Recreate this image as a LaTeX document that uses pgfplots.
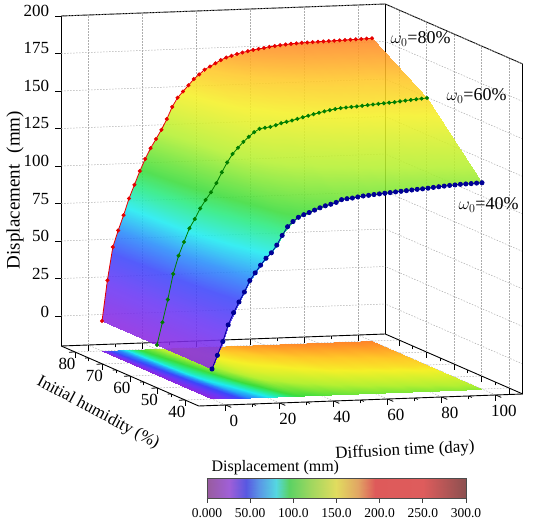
\documentclass[border=0pt]{standalone}
\usepackage{pgfplots}
\pgfplotsset{compat=1.18}
\usepackage{pgfplotstable}
\usetikzlibrary{calc}
\usepackage{fontspec}
\setmainfont{Liberation Serif}

\pgfplotsset{
 colormap={surfmap}{
  rgb255(0pt)=(140,40,225)
  rgb255(25pt)=(105,55,245)
  rgb255(45pt)=(60,70,250)
  rgb255(60pt)=(40,140,250)
  rgb255(75pt)=(30,235,240)
  rgb255(90pt)=(40,235,130)
  rgb255(100pt)=(60,220,60)
  rgb255(125pt)=(180,240,50)
  rgb255(150pt)=(245,240,40)
  rgb255(165pt)=(255,200,40)
  rgb255(180pt)=(255,140,40)
  rgb255(200pt)=(240,60,50)
  rgb255(250pt)=(230,70,70)
  rgb255(300pt)=(130,50,50)
 },
 colormap={barmap}{
  rgb255(0pt)=(152,92,158)
  rgb255(25pt)=(160,95,215)
  rgb255(45pt)=(88,88,225)
  rgb255(60pt)=(90,150,230)
  rgb255(80pt)=(85,215,225)
  rgb255(95pt)=(90,210,100)
  rgb255(120pt)=(160,215,95)
  rgb255(150pt)=(225,220,95)
  rgb255(175pt)=(225,165,100)
  rgb255(195pt)=(222,90,90)
  rgb255(250pt)=(222,92,92)
  rgb255(300pt)=(140,80,80)
 },
}

% t = diffusion time (day), h = initial humidity (%), d = displacement (mm)
\pgfplotstableread{
t h d
0 40 0
2 40 9
4 40 18
6 40 29
8 40 37
10 40 44
12 40 50.5
14 40 58
16 40 63
18 40 68
20 40 72.5
22 40 76
24 40 81
26 40 87.3
28 40 93
30 40 96.3
32 40 99
34 40 100.6
36 40 101.9
38 40 103.4
40 40 104.8
42 40 106
44 40 106.9
46 40 108
48 40 109.7
50 40 110.2
52 40 110.5
54 40 111.1
56 40 111.6
58 40 111.9
60 40 112.3
62 40 112.6
64 40 112.9
66 40 113.2
68 40 113.5
70 40 113.8
72 40 114.1
74 40 114.4
76 40 114.7
78 40 114.9
80 40 115.2
82 40 115.6
84 40 115.9
86 40 116.2
88 40 116.5
90 40 116.7
92 40 117
94 40 117.1
96 40 117.2
98 40 117.4
100 40 117.5
0 60 0
2 60 15
4 60 30
6 60 47
8 60 59
10 60 68
12 60 77
14 60 83
16 60 90
18 60 95.5
20 60 100.5
22 60 106.5
24 60 113.5
26 60 120
28 60 125.5
30 60 129.5
32 60 133.3
34 60 136.5
36 60 139.5
38 60 141.6
40 60 142.2
42 60 142.6
44 60 143.6
46 60 144.8
48 60 145.6
50 60 146.3
52 60 147.3
54 60 148.2
56 60 149.1
58 60 150
60 60 150.8
62 60 151.6
64 60 152.3
66 60 152.9
68 60 153.4
70 60 153.7
72 60 153.9
74 60 154.1
76 60 154.4
78 60 154.7
80 60 155
82 60 155.3
84 60 155.5
86 60 155.8
88 60 156
90 60 156.4
92 60 156.8
94 60 157.1
96 60 157.4
98 60 157.7
100 60 158
0 80 0
2 80 27
4 80 49
6 80 60
8 80 70
10 80 81
12 80 90
14 80 99
16 80 107
18 80 114
20 80 120
22 80 126
24 80 133
26 80 141
28 80 147
30 80 151
32 80 155
34 80 159
36 80 162
38 80 165
40 80 167
42 80 169
44 80 171
46 80 172.6
48 80 173.6
50 80 174.7
52 80 175.5
54 80 176.3
56 80 177
58 80 177.5
60 80 178
62 80 178.6
64 80 179
66 80 179.5
68 80 179.8
70 80 180.1
72 80 180.3
74 80 180.5
76 80 180.6
78 80 180.7
80 80 180.8
82 80 180.9
84 80 181
86 80 181.1
88 80 181.2
90 80 181.3
92 80 181.4
94 80 181.5
96 80 181.6
98 80 181.7
100 80 181.8
}\surfdata

\definecolor{cred}{RGB}{230,0,0}
\definecolor{cgreen}{RGB}{0,125,0}
\definecolor{cblue}{RGB}{0,0,150}

\begin{document}
\begin{tikzpicture}
\begin{axis}[
  x={(2.7pt,0.1pt)}, y={(-2.75pt,1.2pt)}, z={(0pt,1.5pt)},
  xmin=-10, xmax=110, ymin=35, ymax=85, zmin=-20, zmax=200,
  xtick={0,20,...,100}, ytick={40,50,...,80}, ztick={0,25,...,200},
  minor x tick num=1, minor y tick num=1,
  tick pos=left,
  tick align=outside,
  major tick length=6pt, minor tick length=3.5pt,
  grid=major,
  major grid style={black!32, dash pattern=on 1.5pt off 1.5pt, line width=0.5pt},
  axis line style={line width=0.9pt, black},
  every tick/.style={black, line width=0.8pt},
  major z tick style={draw=none},
  tick label style={font=\fontsize{17}{17}\selectfont},
  xticklabel style={anchor=north},
  xticklabel shift=5pt,
  yticklabel style={anchor=north, xshift=-2pt, yshift=-2pt},
  zticklabel style={xshift=-3pt},
  /pgf/number format/assume math mode=true,
  colormap name=surfmap, point meta min=0, point meta max=300,
  clip=false,
]
\addplot3[surf, shader=interp, mesh/cols=51, point meta=\thisrow{d}]
  table[x=t, y=h, z expr=-20] {\surfdata};
\addplot3[surf, shader=interp, mesh/cols=51, opacity=0.88, point meta=z]
  table[x=t, y=h, z=d] {\surfdata};
\addplot3[cblue, line width=0.8pt, mark=*, mark size=2.1pt, restrict y to domain=39:41]
  table[x=t, y=h, z=d] {\surfdata};
\addplot3[cgreen, line width=0.8pt, mark=*, mark size=1.6pt, restrict y to domain=59:61]
  table[x=t, y=h, z=d] {\surfdata};
\addplot3[cred, line width=0.8pt, mark=*, mark size=1.6pt, restrict y to domain=79:81]
  table[x=t, y=h, z=d] {\surfdata};
\pgfplotsinvokeforeach{0,25,...,200}{
  \draw[black, line width=0.8pt] (axis cs:-10,85,#1) -- ++(-6pt,0pt);
}
\coordinate (P) at (axis cs:-10,85,-20);
\end{axis}
\coordinate (TL) at ($(P)+(-61.25pt,346pt)$);
\begin{scope}[shift={(TL)}, x=1pt, y=-1pt]
  \node[font=\fontsize{18}{18}\selectfont, anchor=west] at (387,39) {$\omega_0$=80\%};
  \node[font=\fontsize{18}{18}\selectfont, anchor=west] at (443,96) {$\omega_0$=60\%};
  \node[font=\fontsize{18}{18}\selectfont, anchor=west] at (455,205) {$\omega_0$=40\%};
  \node[font=\fontsize{19}{19}\selectfont, rotate=90] at (15,190) {Displacement\hspace{0.6em}(mm)};
  \node[font=\fontsize{17}{17}\selectfont, rotate=3] at (405,451) {Diffusion time (day)};
  \node[font=\fontsize{17}{17}\selectfont, rotate=-28] at (98,413) {Initial humidity (\%)};
  \node[font=\fontsize{16}{16}\selectfont, anchor=base west] at (208,472) {Displacement (mm)};
\end{scope}
\begin{axis}[
  at={($(TL)+(207pt,-498pt)$)}, anchor=south west,
  scale only axis, width=259pt, height=20pt,
  view={0}{90},
  xmin=0, xmax=300, ymin=0, ymax=1,
  xtick={0,50,...,300},
  xticklabels={0.000,50.00,100.0,150.0,200.0,250.0,300.0},
  ytick=\empty, ztick=\empty,
  xtick pos=left,
  tick align=outside, major tick length=5pt,
  every tick/.style={black!75, line width=0.8pt},
  axis line style={draw=black!70, line width=0.8pt},
  tick label style={font=\fontsize{13.5}{14}\selectfont, yshift=-2pt},
  /pgf/number format/assume math mode=true,
  colormap name=barmap, point meta min=0, point meta max=300,
]
\addplot3[surf, shader=interp, mesh/cols=12, point meta=x] coordinates {
 (0,0,0) (25,0,0) (45,0,0) (60,0,0) (80,0,0) (95,0,0) (120,0,0) (150,0,0) (175,0,0) (195,0,0) (250,0,0) (300,0,0)
 (0,1,0) (25,1,0) (45,1,0) (60,1,0) (80,1,0) (95,1,0) (120,1,0) (150,1,0) (175,1,0) (195,1,0) (250,1,0) (300,1,0)
};
\end{axis}
\pgfresetboundingbox
\path (TL) rectangle ($(TL)+(550pt,-530pt)$);
\end{tikzpicture}
\end{document}
